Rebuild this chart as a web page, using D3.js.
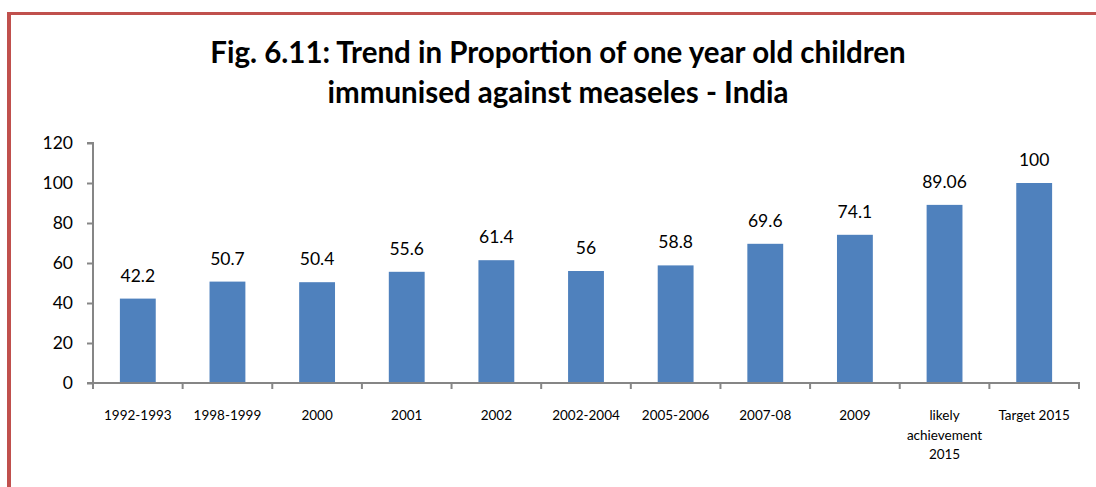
<!DOCTYPE html>
<html><head><meta charset="utf-8">
<script src="https://cdn.jsdelivr.net/npm/d3@7"></script>
<style>body{margin:0;background:#fff}svg{display:block}</style>
</head><body><svg id="c" width="1096" height="487"></svg>
<script>
const categories = ["1992-1993","1998-1999","2000","2001","2002","2002-2004","2005-2006","2007-08","2009","likely achievement 2015","Target 2015"];
const categoryLines = [["1992-1993"],["1998-1999"],["2000"],["2001"],["2002"],["2002-2004"],["2005-2006"],["2007-08"],["2009"],["likely","achievement","2015"],["Target 2015"]];
const values = [42.2,50.7,50.4,55.6,61.4,56,58.8,69.6,74.1,89.06,100];
const valueLabels = ["42.2","50.7","50.4","55.6","61.4","56","58.8","69.6","74.1","89.06","100"];
const yTicks = [0,20,40,60,80,100,120];
const titleLines = ["Fig. 6.11: Trend in Proportion of one year old children","immunised against measeles - India"];

const svg = d3.select("#c");
const font = "Lato, 'Open Sans', sans-serif";
// frame
svg.append("rect").attr("x",9).attr("y",13.5).attr("width",1200).attr("height",600)
  .attr("fill","none").attr("stroke","#C0504D").attr("stroke-width",3);
svg.append("line").attr("x1",9).attr("x2",9).attr("y1",12).attr("y2",487).attr("stroke","#C0504D").attr("stroke-width",4);

const x = d3.scaleBand().domain(categories).range([93,1079]).paddingInner(0).paddingOuter(0);
const y = d3.scaleLinear().domain([0,120]).range([383,143]);

svg.append("g").selectAll("text").data(titleLines).join("text")
  .attr("x",558).attr("y",(d,i)=>63+i*40).attr("text-anchor","middle")
  .attr("font-family",font).attr("font-weight","bold").attr("font-size",29.5).attr("fill","#000").text(d=>d);

const bw = x.bandwidth()*0.4;
svg.append("g").selectAll("rect").data(values).join("rect")
  .attr("x",(d,i)=>x(categories[i])+x.bandwidth()/2-bw/2).attr("width",bw)
  .attr("y",d=>y(d)).attr("height",d=>y(0)-y(d)).attr("fill","#4F81BD");

svg.append("g").selectAll("text").data(values).join("text")
  .attr("x",(d,i)=>x(categories[i])+x.bandwidth()/2).attr("y",d=>y(d)-17)
  .attr("text-anchor","middle").attr("font-family",font).attr("font-size",17.5).attr("fill","#000")
  .text((d,i)=>valueLabels[i]);

// y axis
const ya = d3.axisLeft(y).tickValues(yTicks).tickSize(6).tickPadding(14);
const gy = svg.append("g").attr("transform","translate(93,0)").call(ya);
gy.selectAll("path,line").attr("stroke","#868686").attr("stroke-width",2);
gy.select("path").attr("d","M-6,143H0V383");
gy.selectAll("text").attr("font-family",font).attr("font-size",17.5).attr("fill","#000");

// x axis
const ga = svg.append("g");
ga.append("line").attr("x1",87).attr("x2",1080).attr("y1",383).attr("y2",383).attr("stroke","#868686").attr("stroke-width",2);
const tickXs = categories.map(c=>x(c)).concat([x(categories[categories.length-1])+x.bandwidth()]);
ga.selectAll("line.t").data(tickXs).join("line").attr("class","t")
  .attr("x1",d=>d).attr("x2",d=>d).attr("y1",383).attr("y2",389).attr("stroke","#868686").attr("stroke-width",2);
const xl = ga.selectAll("text").data(categoryLines).join("text")
  .attr("text-anchor","middle").attr("font-family",font).attr("font-size",13.5).attr("fill","#000");
xl.each(function(lines,i){
  d3.select(this).selectAll("tspan").data(lines).join("tspan")
    .attr("x",x(categories[i])+x.bandwidth()/2).attr("y",(d,j)=>420+j*19.5).text(d=>d);
});
</script></body></html>
